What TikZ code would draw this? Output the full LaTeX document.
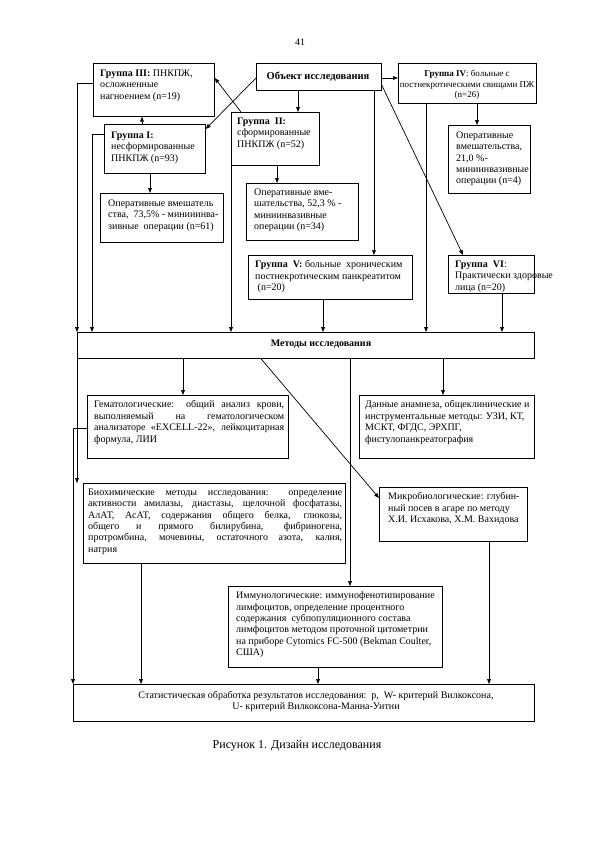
\documentclass[tikz,border=0pt]{standalone}
\usepackage{fontspec}
\setmainfont{Liberation Serif}
\usetikzlibrary{arrows.meta}
\newcommand\dfs{\fontsize{10}{11.4}\selectfont}
\begin{document}
\begin{tikzpicture}[x=1pt,y=-1pt,
  box/.style={draw, line width=0.7pt, inner sep=0pt, anchor=north west},
  txt/.style={anchor=north west, inner sep=0pt, align=left, font=\dfs},
  jtxt/.style={anchor=north west, inner sep=0pt, align=justify, font=\dfs},
  arr/.style={line width=0.7pt, -{Triangle[length=5pt,width=3.8pt]}},
  ln/.style={line width=0.7pt}]
\fill[white] (0,0) rectangle (594,841);
\useasboundingbox (0,0) rectangle (594,841);

\node[font=\fontsize{10}{12}\selectfont] (pg) at (300,42) {41};

% boxes
\node[box, minimum width=121pt, minimum height=53pt] (g3) at (93,63) {};
\node[box, minimum width=125pt, minimum height=27pt] (obj) at (256,63) {};
\node[box, minimum width=138pt, minimum height=40pt] (g4) at (398,63) {};
\node[box, minimum width=101pt, minimum height=49pt] (g1) at (104,124) {};
\node[box, minimum width=88pt, minimum height=53pt] (g2) at (231,112) {};
\node[box, minimum width=82pt, minimum height=68pt] (op4) at (448,125) {};
\node[box, minimum width=123pt, minimum height=49pt] (op1) at (100,193) {};
\node[box, minimum width=112pt, minimum height=57pt] (op2) at (246,183) {};
\node[box, minimum width=164pt, minimum height=44pt] (g5) at (248,255) {};
\node[box, minimum width=86pt, minimum height=38pt] (g6) at (448,255) {};
\node[box, minimum width=457pt, minimum height=26pt] (meth) at (77,332) {};
\node[box, minimum width=201pt, minimum height=63pt] (hem) at (87,395) {};
\node[box, minimum width=175pt, minimum height=63pt] (data) at (359,395) {};
\node[box, minimum width=262pt, minimum height=80pt] (bio) at (83,483) {};
\node[box, minimum width=148pt, minimum height=54pt] (micro) at (379,487) {};
\node[box, minimum width=214pt, minimum height=81pt] (imm) at (228,586) {};
\node[box, minimum width=461pt, minimum height=37pt] (stats) at (73,684) {};

% texts
\node[txt] (t3) at (100,69.5) {\textbf{Группа III:} ПНКПЖ,\\осложненные\\нагноением (n=19)};
\node[font=\fontsize{10.5}{12}\selectfont\bfseries, inner sep=0pt] (tobj) at (318,76.5) {Объект исследования};
\node[anchor=north, inner sep=0pt, align=center, font=\fontsize{9}{10.4}\selectfont] (t4) at (467,70) {\textbf{Группа IV}: больные с\\постнекротическими свищами ПЖ\\(n=26)};
\node[txt] (t1) at (111,131.5) {\textbf{Группа I:}\\несформированные\\ПНКПЖ (n=93)};
\node[txt] (t2) at (237,117.5) {\textbf{Группа~~II:}\\сформированные\\ПНКПЖ (n=52)};
\node[txt] (top4) at (456,131.5) {Оперативные\\вмешательства,\\21,0 \%-\\миниинвазивные\\операции (n=4)};
\node[txt] (top1) at (108,199.5) {Оперативные вмешатель\\ства,~~73,5\% - минииинва-\\зивные~~операции (n=61)};
\node[txt] (top2) at (254,188.5) {Оперативные вме-\\шательства, 52,3 \% -\\миниинвазивные\\операции (n=34)};
\node[txt] (t5) at (255,260.5) {\textbf{Группа~~V:} больные~~хроническим\\постнекротическим панкреатитом\\~(n=20)};
\node[txt] (t6) at (455,260.5) {\textbf{Группа~~VI}:\\Практически здоровые\\лица (n=20)};
\node[font=\fontsize{10}{12}\selectfont\bfseries, inner sep=0pt] (tmeth) at (321,344) {Методы исследования};
\node[jtxt, text width=190pt] (them) at (94,400.5) {Гематологические: общий анализ крови,\linebreak выполняемый на гематологическом\linebreak анализаторе «EXCELL-22», лейкоцитарная\linebreak формула, ЛИИ};
\node[txt] (tdata) at (365,400.5) {Данные анамнеза, общеклинические и\\инструментальные методы: УЗИ, КТ,\\МСКТ, ФГДС, ЭРХПГ,\\фистулопанкреатография};
\node[jtxt, text width=254pt] (tbio) at (88,488.5) {Биохимические методы исследования: определение\linebreak активности амилазы, диастазы, щелочной фосфатазы,\linebreak АлАТ, АсАТ, содержания общего белка, глюкозы,\linebreak общего и прямого билирубина, фибриногена,\linebreak протромбина, мочевины, остаточного азота, калия,\linebreak натрия};
\node[txt] (tmicro) at (388,492.5) {Микробиологические: глубин-\\ный посев в агаре по методу\\Х.И. Исхакова, Х.М. Вахидова};
\node[txt] (timm) at (236,591.5) {Иммунологические: иммунофенотипирование\\лимфоцитов, определение процентного\\содержания~~субпопуляционного состава\\лимфоцитов методом проточной цитометрии\\на приборе Cytomics FC-500 (Bekman Coulter,\\США)};
\node[anchor=north, inner sep=0pt, align=center, font=\dfs] (tstats) at (316,691) {Статистическая обработка результатов исследования:~~p,~~W- критерий Вилкоксона,\\U- критерий Вилкоксона-Манна-Уитни};
\node[font=\fontsize{12}{14}\selectfont, inner sep=0pt] (cap) at (297,746) {Рисунок 1. Дизайн исследования};

% connectors
\draw[arr] (g3.west |- 0,83) -| (77,0 |- meth.north);
\draw[arr] (g1.west |- 0,134) -| (92,0 |- meth.north);
\draw[arr] (obj.west |- 0,78) -- (g1.east |- 0,129);
\draw[arr] (241,0 |- g2.north) -- (g3.east |- 0,78);
\draw[arr] (142,0 |- g1.north) -- (142,0 |- g3.south);
\draw[arr] (298,0 |- obj.south) -- (298,0 |- g2.north);
\draw[arr] (obj.east |- 0,78) -- (g4.west |- 0,78);
\draw[arr] (obj.east |- 0,85) -- (463,0 |- g6.north);
\draw[arr] (374,0 |- obj.south) -- (374,0 |- g5.north);
\draw[arr] (477,0 |- g4.south) -- (477,0 |- op4.north);
\draw[arr] (426,0 |- g4.south) -- (426,0 |- meth.north);
\draw[arr] (150,0 |- g1.south) -- (150,0 |- op1.north);
\draw[arr] (277,0 |- g2.south) -- (277,0 |- op2.north);
\draw[arr] (g2.south west) -- (g2.south west |- meth.north);
\draw[arr] (323,0 |- g5.south) -- (323,0 |- meth.north);
\draw[arr] (502,0 |- g6.south) -- (502,0 |- meth.north);
\draw[arr] (183,0 |- meth.south) -- (183,0 |- hem.north);
\draw[arr] (261,0 |- meth.south) -- (micro.west |- 0,498);
\draw[arr] (350,0 |- meth.south) -- (350,0 |- imm.north);
\draw[arr] (443,0 |- meth.south) -- (443,0 |- data.north);
\draw[arr] (meth.south west) -- (77,0 |- bio.north);
\draw[arr] (hem.west |- 0,428) -| (73,0 |- stats.north);
\draw[arr] (141,0 |- bio.south) -- (141,0 |- stats.north);
\draw[arr] (318,0 |- imm.south) -- (318,0 |- stats.north);
\draw[arr] (489,0 |- micro.south) -- (489,0 |- stats.north);
\end{tikzpicture}
\end{document}
